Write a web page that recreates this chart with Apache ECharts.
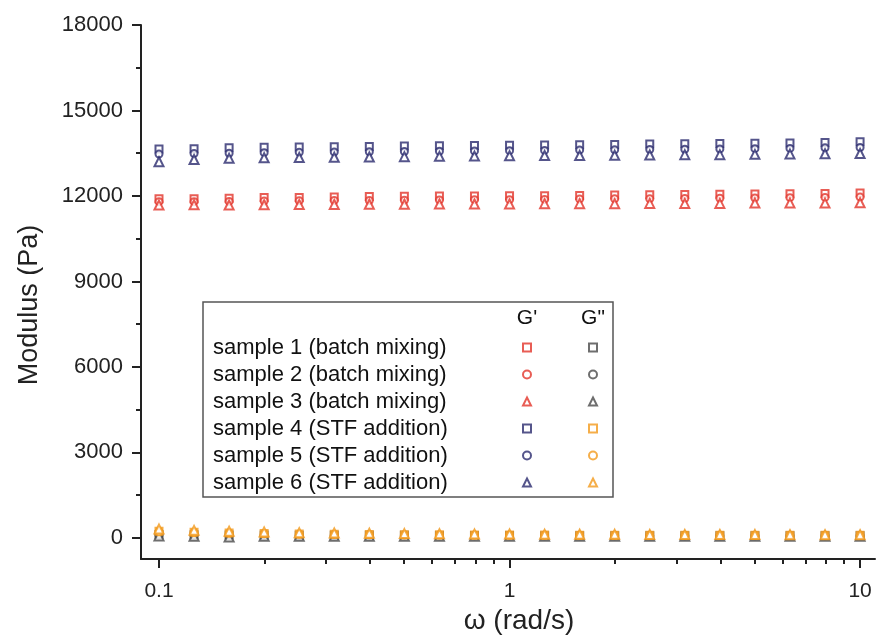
<!DOCTYPE html>
<html>
<head>
<meta charset="utf-8">
<script src="https://cdn.jsdelivr.net/npm/echarts@6/dist/echarts.min.js"></script>
<style>html,body{margin:0;padding:0;background:#fff}#c{width:878px;height:635px}</style>
</head>
<body>
<div id="c"></div>
<script>
// angular frequency (rad/s)
const omega = [0.1, 0.1259, 0.1585, 0.1995, 0.2512, 0.3162, 0.3981, 0.5012, 0.631, 0.7943, 1, 1.259, 1.585, 1.995, 2.512, 3.162, 3.981, 5.012, 6.31, 7.943, 10];

// G' batch mixing (samples 1-3)
const s1G1 = [11900, 11900, 11920, 11950, 11950, 11960, 11980, 11990, 12000, 12000, 12010, 12010, 12020, 12030, 12040, 12050, 12060, 12070, 12080, 12090, 12100];
const s2G1 = [11800, 11800, 11810, 11820, 11830, 11840, 11840, 11850, 11860, 11870, 11870, 11880, 11890, 11900, 11900, 11910, 11920, 11930, 11940, 11950, 11960];
const s3G1 = [11680, 11690, 11680, 11690, 11700, 11700, 11710, 11710, 11720, 11720, 11720, 11730, 11730, 11730, 11740, 11740, 11740, 11750, 11750, 11750, 11760];
// G' STF addition (samples 4-6)
const s4G1 = [13650, 13660, 13690, 13710, 13720, 13730, 13740, 13750, 13760, 13770, 13780, 13790, 13800, 13810, 13820, 13830, 13840, 13850, 13860, 13880, 13900];
const s5G1 = [13470, 13490, 13500, 13520, 13530, 13540, 13550, 13560, 13570, 13580, 13590, 13600, 13610, 13620, 13630, 13640, 13650, 13660, 13670, 13690, 13700];
const s6G1 = [13200, 13280, 13320, 13340, 13350, 13360, 13370, 13380, 13390, 13400, 13410, 13420, 13420, 13430, 13440, 13450, 13450, 13460, 13470, 13480, 13490];
// G'' batch mixing (samples 1-3)
const s1G2 = [120, 110, 100, 100, 95, 90, 90, 90, 85, 85, 85, 80, 80, 80, 80, 80, 80, 80, 80, 80, 80];
const s2G2 = [100, 90, 85, 80, 80, 75, 75, 75, 70, 70, 70, 70, 70, 70, 70, 70, 70, 70, 70, 70, 70];
const s3G2 = [70, 60, 30, 60, 60, 60, 60, 60, 60, 60, 60, 60, 60, 60, 60, 60, 60, 60, 60, 60, 60];
// G'' STF addition (samples 4-6)
const s4G2 = [230, 200, 175, 155, 140, 130, 120, 115, 110, 105, 100, 100, 95, 95, 90, 90, 90, 90, 90, 90, 90];
const s5G2 = [210, 180, 160, 145, 130, 120, 112, 106, 100, 98, 95, 93, 90, 90, 88, 88, 86, 86, 85, 85, 85];
const s6G2 = [310, 265, 235, 205, 185, 172, 162, 152, 145, 140, 135, 130, 128, 125, 122, 120, 118, 116, 115, 114, 112];

const sampleNames = ['sample 1 (batch mixing)', 'sample 2 (batch mixing)', 'sample 3 (batch mixing)',
                     'sample 4 (STF addition)', 'sample 5 (STF addition)', 'sample 6 (STF addition)'];
const yMajorTicks = [0, 3000, 6000, 9000, 12000, 15000, 18000];
const yMinorTicks = [1500, 4500, 7500, 10500, 13500, 16500];
const xMajorTicks = [0.1, 1, 10];
const xMinorTicks = [0.2, 0.3, 0.4, 0.5, 0.6, 0.7, 0.8, 0.9, 2, 3, 4, 5, 6, 7, 8, 9];

const RED = '#e2342a', NAVY = '#2b2b6e', GRAY = '#4a4a4a', ORANGE = '#f29a1c';
const FONT = 'Liberation Sans';

const gPrime = [s1G1, s2G1, s3G1, s4G1, s5G1, s6G1];
const gDouble = [s1G2, s2G2, s3G2, s4G2, s5G2, s6G2];
const shapes = ['emptyRect', 'emptyCircle', 'emptyTriangle'];
const sizes = [7, 7, 9];

function mk(name, vals, color, idx) {
  return {
    name: name, type: 'scatter',
    symbol: shapes[idx % 3], symbolSize: sizes[idx % 3],
    itemStyle: { color: color, borderColor: color, borderWidth: 1.6 },
    data: omega.map((w, i) => [w, vals[i]]),
    xAxisIndex: 0, yAxisIndex: 0, silent: true
  };
}
const series = [];
const g1Names = [], g2Names = [];
for (let i = 0; i < 6; i++) {
  const n = sampleNames[i] + " G'";
  g1Names.push(n);
  series.push(mk(n, gPrime[i], i < 3 ? RED : NAVY, i));
}
// G'' batch first, STF on top
for (let i = 0; i < 6; i++) {
  const n = sampleNames[i] + ' G"';
  g2Names.push(n);
  series.push(mk(n, gDouble[i], i < 3 ? GRAY : ORANGE, i));
}

const xMin = 0.08885, xMax = 11.03, yMin = -740, yMax = 18000;
const axisCol = '#222';

const chart = echarts.init(document.getElementById('c'), null, { renderer: 'canvas' });
chart.setOption({
  animation: false,
  backgroundColor: '#fff',
  grid: { left: 141, right: 3, top: 25, bottom: 76, containLabel: false, outerBoundsMode: 'none' },
  xAxis: [{
    type: 'log', min: xMin, max: xMax, position: 'bottom',
    name: 'ω (rad/s)', nameLocation: 'middle', nameGap: 46,
    nameTextStyle: { fontFamily: FONT, fontSize: 28, color: axisCol, padding: [0, 0, 0, 22] },
    axisLine: { onZero: false, lineStyle: { color: axisCol, width: 2 } },
    axisTick: { customValues: xMajorTicks, length: 9, lineStyle: { color: axisCol, width: 2 } },
    axisLabel: { customValues: xMajorTicks, margin: 22, fontFamily: FONT, fontSize: 21, color: axisCol,
                 formatter: v => String(+Number(v).toPrecision(3)) },
    splitLine: { show: false }, minorTick: { show: false }
  }, {
    type: 'log', min: xMin, max: xMax, position: 'bottom',
    axisLine: { show: false, onZero: false },
    axisTick: { customValues: xMinorTicks, length: 5, lineStyle: { color: axisCol, width: 2 } },
    axisLabel: { show: false }, splitLine: { show: false }
  }],
  yAxis: [{
    type: 'value', min: yMin, max: yMax, position: 'left',
    name: 'Modulus (Pa)', nameLocation: 'middle', nameGap: 98,
    nameTextStyle: { fontFamily: FONT, fontSize: 27, color: axisCol, padding: [0, 26, 0, 0] },
    axisLine: { show: true, onZero: false, lineStyle: { color: axisCol, width: 2 } },
    axisTick: { show: true, customValues: yMajorTicks, length: 9, lineStyle: { color: axisCol, width: 2 } },
    axisLabel: { customValues: yMajorTicks, margin: 18, fontFamily: FONT, fontSize: 22, color: axisCol,
                 formatter: v => String(v) },
    splitLine: { show: false }
  }, {
    type: 'value', min: yMin, max: yMax, position: 'left',
    axisLine: { show: false, onZero: false },
    axisTick: { show: true, customValues: yMinorTicks, length: 5, lineStyle: { color: axisCol, width: 2 } },
    axisLabel: { show: false }, splitLine: { show: false }
  }],
  legend: [{
    data: g1Names, orient: 'vertical', left: 213, top: 334, padding: 0, itemGap: 0,
    align: 'right', itemWidth: 8, itemHeight: 8, selectedMode: false,
    formatter: n => '{a|' + n.replace(" G'", '') + '}',
    textStyle: { fontFamily: FONT, fontSize: 22, color: '#111', lineHeight: 27,
                 rich: { a: { width: 305, align: 'left', fontFamily: FONT, fontSize: 22, color: '#111', lineHeight: 27 } } }
  }, {
    data: g2Names, orient: 'vertical', left: 588, top: 334, padding: 0, itemGap: 0,
    itemWidth: 8, itemHeight: 8, selectedMode: false,
    formatter: () => ' ',
    textStyle: { fontFamily: FONT, fontSize: 20, lineHeight: 27 }
  }],
  graphic: [
    { type: 'rect', shape: { x: 203, y: 302, width: 410, height: 195 },
      style: { fill: 'none', stroke: '#555', lineWidth: 1.5 }, z: 1 },
    { type: 'text', x: 527, y: 318, z: 2,
      style: { text: "G'", font: '21px "Liberation Sans"', fill: '#111', textAlign: 'center', textVerticalAlign: 'middle' } },
    { type: 'text', x: 593, y: 318, z: 2,
      style: { text: 'G"', font: '21px "Liberation Sans"', fill: '#111', textAlign: 'center', textVerticalAlign: 'middle' } }
  ],
  series: series
});
</script>
</body>
</html>
